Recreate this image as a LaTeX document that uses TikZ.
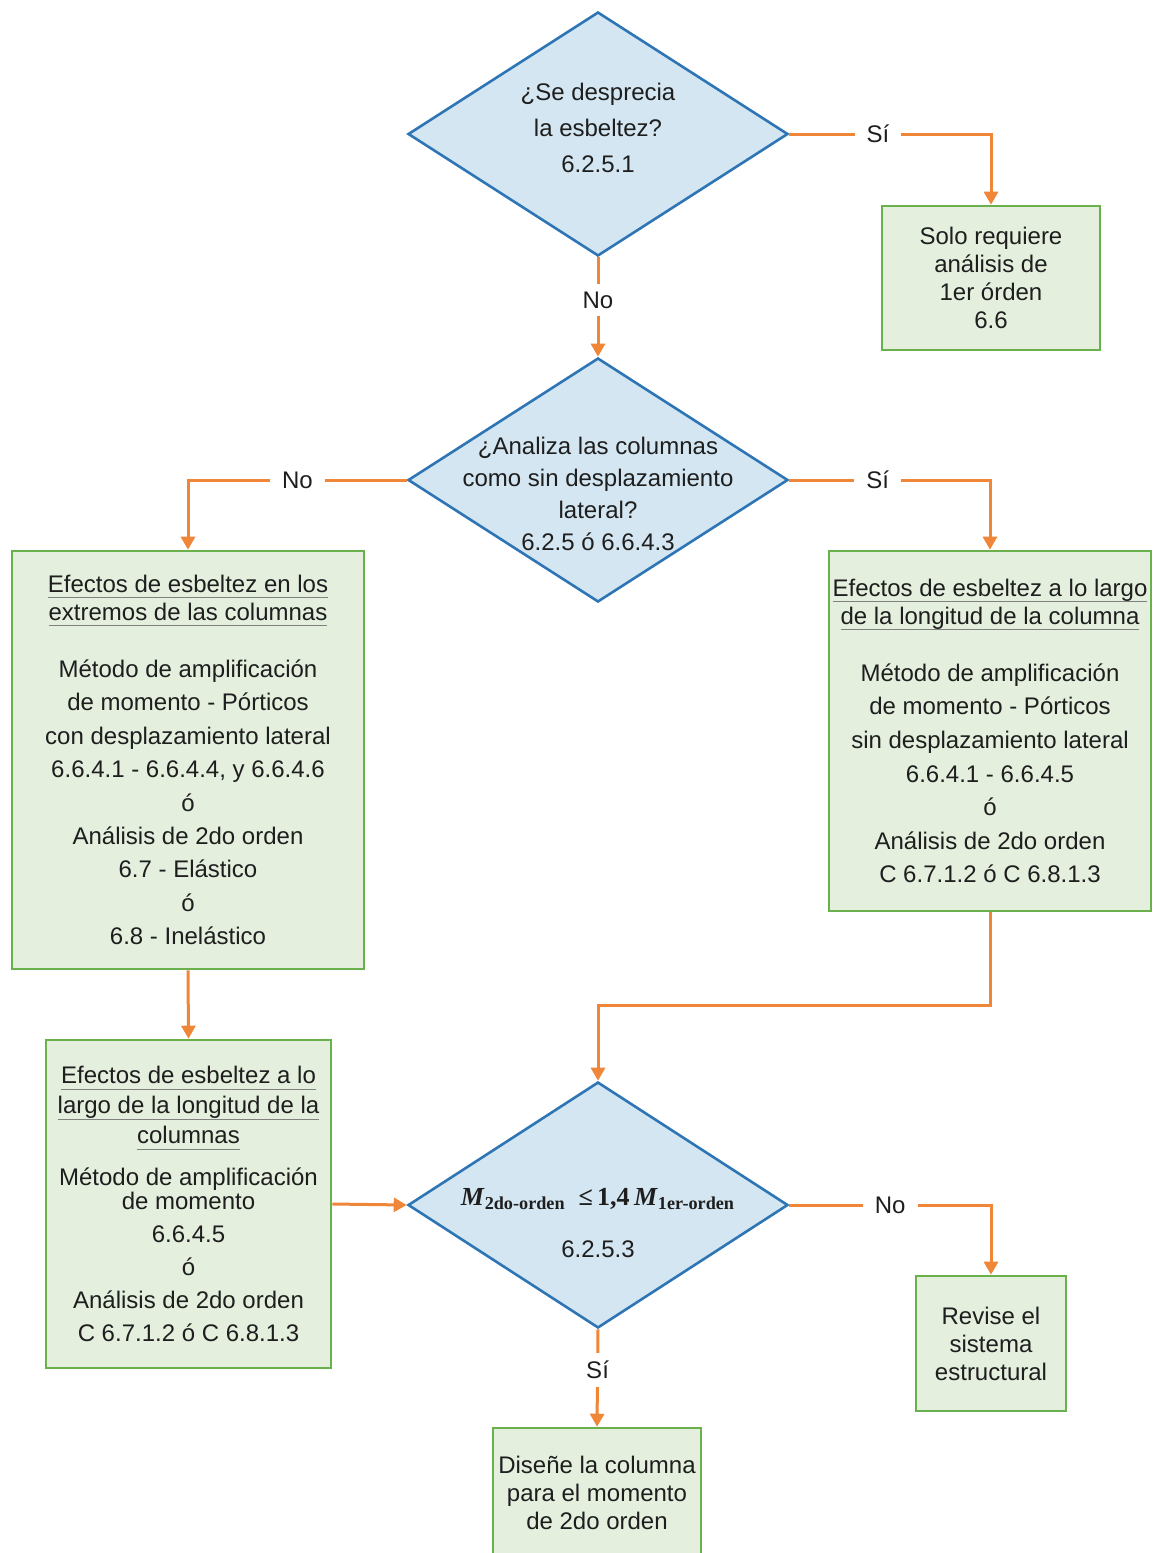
\documentclass[tikz,border=0pt]{standalone}
\usepackage{fontspec}
\setmainfont{Liberation Sans}
\newfontfamily\formulafont{Liberation Serif}
\usetikzlibrary{shapes.geometric,arrows.meta}

\definecolor{decfill}{RGB}{212,230,241}
\definecolor{decline}{RGB}{46,117,182}
\definecolor{boxfill}{RGB}{228,239,222}
\definecolor{boxline}{RGB}{106,176,76}
\definecolor{flowline}{RGB}{240,134,56}
\definecolor{txt}{RGB}{30,30,30}

% grey rule under a title line, without touching the line spacing
\newcommand{\ttl}[1]{\setbox0\hbox{#1}\leavevmode\rlap{\smash{\raisebox{-3pt}{\textcolor{gray}{\rule{\wd0}{0.5pt}}}}}\box0}

\begin{document}
\begin{tikzpicture}[x=0.5pt, y=-0.5pt,
    every node/.style={font=\fontsize{12}{14}\selectfont, text=txt},
    decision/.style={diamond, draw=decline, fill=decfill, line width=1.3pt, inner sep=0pt,
                     minimum width=190pt, minimum height=122pt},
    block/.style={rectangle, draw=boxline, fill=boxfill, line width=1.3pt, align=center, inner sep=0pt},
    flow/.style={draw=flowline, line width=1.5pt, -{Triangle[length=6.5pt,width=7pt]}},
    answer/.style={fill=white, inner xsep=6pt, inner ysep=4pt}]
    \useasboundingbox (0,0) rectangle (1152,1553);

    \node [decision, label={[align=center, font=\fontsize{12}{18}\selectfont, yshift=3pt]center:{¿Se desprecia\\la esbeltez?\\6.2.5.1}}] (d1) at (598,134) {};
    \node [block, minimum width=109pt, minimum height=72pt] (b1) at (991,278) {Solo requiere\\análisis de\\1er órden\\6.6};

    \node [decision, label={[align=center, font=\fontsize{12}{16}\selectfont, yshift=-7pt]center:{¿Analiza las columnas\\como sin desplazamiento\\lateral?\\6.2.5 ó 6.6.4.3}}] (d2) at (598,480) {};

    \node [block, minimum width=176pt, minimum height=209pt, font=\fontsize{12}{16.7}\selectfont] (l1) at (188,760)
        {\ttl{Efectos de esbeltez en los}\\[-2.7pt]\ttl{extremos de las columnas}\\[11.8pt]Método de amplificación\\de momento - Pórticos\\con desplazamiento lateral\\6.6.4.1 - 6.6.4.4, y 6.6.4.6\\ó\\Análisis de 2do orden\\6.7 - Elástico\\ó\\6.8 - Inelástico};
    \node [block, minimum width=161pt, minimum height=180pt, font=\fontsize{12}{16.8}\selectfont] (r1) at (990,731)
        {\ttl{Efectos de esbeltez a lo largo}\\[-2.8pt]\ttl{de la longitud de la columna}\\[11.7pt]Método de amplificación\\de momento - Pórticos\\sin desplazamiento lateral\\6.6.4.1 - 6.6.4.5\\ó\\Análisis de 2do orden\\C 6.7.1.2 ó C 6.8.1.3};
    \node [block, minimum width=142.5pt, minimum height=164pt, font=\fontsize{12}{16.5}\selectfont] (l2) at (188.5,1204)
        {\ttl{Efectos de esbeltez a lo}\\[-1.5pt]\ttl{largo de la longitud de la}\\[-1.5pt]\ttl{columnas}\\[4.5pt]Método de amplificación\\[-4.5pt]de momento\\6.6.4.5\\ó\\Análisis de 2do orden\\C 6.7.1.2 ó C 6.8.1.3};

    \node [decision, minimum height=123pt, label={[align=center, yshift=-9pt]center:{{\formulafont\bfseries\fontsize{13}{14}\selectfont\textit{M}\textsubscript{2do-orden}\ \ ≤\,1,4\,\textit{M}\textsubscript{1er-orden}}\\[12pt]6.2.5.3}}] (d3) at (598,1205) {};
    \node [block, minimum width=75pt, minimum height=67.5pt] (r2) at (991,1343.5) {Revise el\\sistema\\estructural};
    \node [block, minimum width=104pt, minimum height=65pt] (bb) at (597,1493) {Diseñe la columna\\para el momento\\de 2do orden};

    \draw [flow] (d1.east) -| node [answer, pos=0.22] {Sí} (b1.north);
    \draw [flow] (d1.south) -- node [answer, pos=0.43] {No} (d2.north);
    \draw [flow] (d2.west) -| node [answer, pos=0.25] {No} (l1.north);
    \draw [flow] (d2.east) -| node [answer, pos=0.22] {Sí} (r1.north);
    \draw [flow] (l1.south) -- (l2.north);
    \draw [flow] (l2.east) -- (d3.west);
    \draw [flow] (r1.south) -- ++(0,93) -| (d3.north);
    \draw [flow] (d3.east) -| node [answer, pos=0.25] {No} (r2.north);
    \draw [flow] (d3.south) -- node [answer, pos=0.42] {Sí} (bb.north);
\end{tikzpicture}
\end{document}
